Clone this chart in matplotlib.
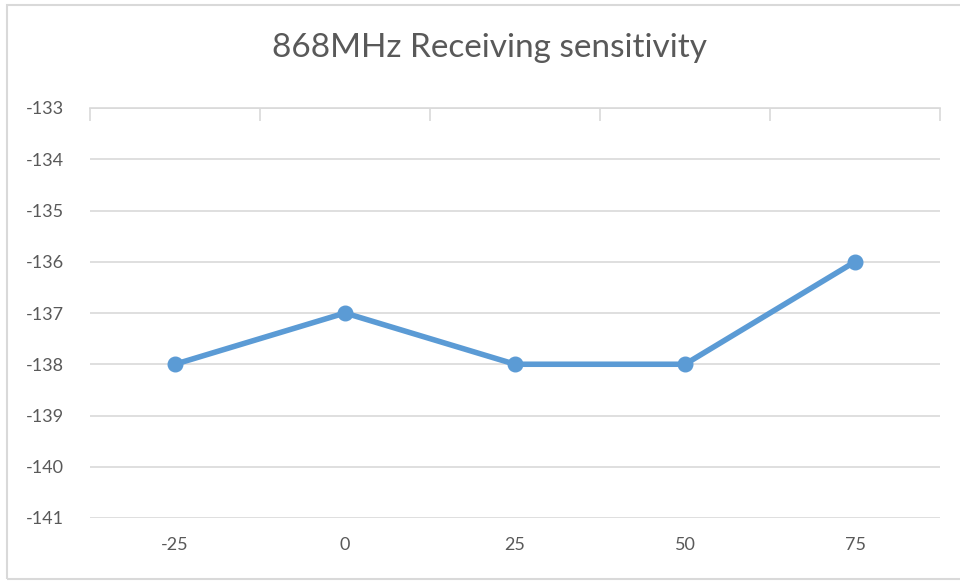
import matplotlib
matplotlib.use("Agg")
import matplotlib.pyplot as plt
from matplotlib.patches import Rectangle

# temperature (category labels) and sensitivity in dBm
temps = ["-25", "0", "25", "50", "75"]
sensitivity = [-138, -137, -138, -138, -136]
yticks = [-133, -134, -135, -136, -137, -138, -139, -140, -141]

plt.rcParams['font.family'] = ['Lato', 'DejaVu Sans']
plt.rcParams['axes.unicode_minus'] = False

txt = '#595959'
grid = '#D9D9D9'
blue = '#5B9BD5'

fig = plt.figure(figsize=(9.6, 5.81), dpi=100)
ax = fig.add_axes([90/960, 1-518/581, 850/960, 410/581])

x = list(range(len(temps)))
ax.plot(x, sensitivity, color=blue, lw=4, marker='o', ms=10.5, zorder=3)

ax.set_xlim(-0.5, len(temps) - 0.5)
ax.set_ylim(-141, -133)
ax.set_yticks(yticks)
ax.yaxis.grid(True, color=grid, lw=1.2)
ax.set_axisbelow(True)

# category labels at bottom, no marks
ax.set_xticks(x)
ax.set_xticklabels(temps)
ax.tick_params(axis='x', which='major', length=0, pad=14, labelsize=13, colors=txt)
ax.tick_params(axis='y', length=0, pad=19, labelsize=13, colors=txt)

# horizontal axis sits at the top with inward ticks at category boundaries
ax.set_xticks([i - 0.5 for i in range(len(temps) + 1)], minor=True)
ax.tick_params(axis='x', which='minor', bottom=False, top=True, direction='in',
               length=9, width=1.2, color=grid)

for s in ['left', 'right', 'bottom']:
    ax.spines[s].set_visible(False)
ax.spines['top'].set_color(grid)
ax.spines['top'].set_linewidth(1.2)

fig.text(489/960, 1-48/581, "868MHz Receiving sensitivity", ha='center', va='center',
         fontsize=24, color=txt)

# chart area border
fig.patches.append(Rectangle((7/960, 2/581), 1.0, 574/581, transform=fig.transFigure,
                             fill=False, edgecolor=grid, lw=1.5))

fig.savefig("out.png", dpi=100)
